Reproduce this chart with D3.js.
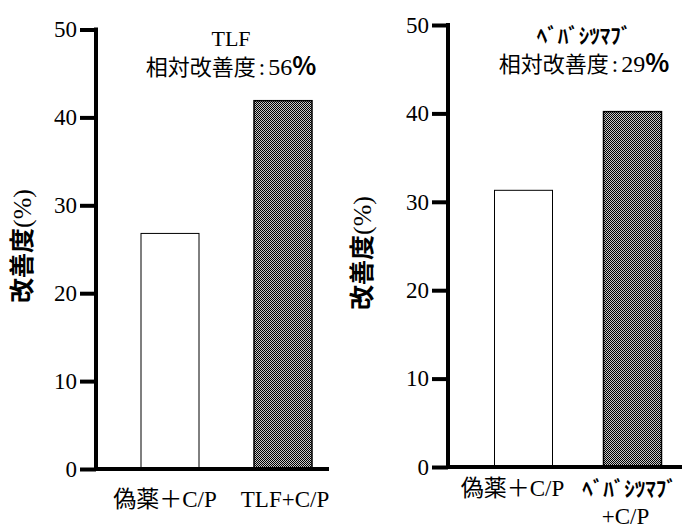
<!DOCTYPE html>
<html>
<head>
  <meta charset="utf-8">
  <script src="https://d3js.org/d3.v7.min.js"></script>
  <style type="text/css">
    body { margin: 0; background: #fff; }
  </style>
</head>
<body>
  <script type="text/javascript">
    // Data
    var leftCategories = ["偽薬＋C/P", "TLF+C/P"],
      leftValues = [26.8, 41.9],
      rightCategories = ["偽薬＋C/P", "ﾍﾞﾊﾞｼﾂﾏﾌﾞ\n+C/P"],
      rightValues = [31.3, 40.2],
      yTicks = [0, 10, 20, 30, 40, 50],
      leftTitle = ["TLF", "相対改善度", ":", "56", "%"],
      rightTitle = ["ﾍﾞﾊﾞｼﾂﾏﾌﾞ", "相対改善度", ":", "29", "%"],
      yLabel = "改善度",
      yLabelUnit = "(%)";

    var width = 682, height = 530;
    var SERIF = '"Liberation Serif", "Times New Roman", serif',
      JP = '"Noto Sans CJK JP", sans-serif';

    var svg = d3.select("body")
      .append("svg")
      .attr("width", width)
      .attr("height", height);

    // checker pattern for the treated bars
    var pat = svg.append("defs").append("pattern")
      .attr("id", "checker")
      .attr("width", 2).attr("height", 2)
      .attr("patternUnits", "userSpaceOnUse");
    pat.append("rect").attr("width", 2).attr("height", 2).attr("fill", "#c8c8c8");
    pat.append("rect").attr("width", 1).attr("height", 1).attr("fill", "#000");
    pat.append("rect").attr("x", 1).attr("y", 1).attr("width", 1).attr("height", 1).attr("fill", "#000");

    function font(sel, fam, size, weight) {
      return sel.style("font-family", fam).style("font-size", size + "px")
        .style("font-weight", weight || "normal");
    }

    function drawPanel(opt) {
      var g = svg.append("g");

      var y = d3.scaleLinear().domain([0, 50]).range([opt.yBottom, opt.yTop]);
      var x = d3.scalePoint().domain(opt.categories).range(opt.xRange).padding(0.5);
      var barW = 58;

      // bars
      g.selectAll("rect.bar")
        .data(opt.values)
        .enter().append("rect")
        .attr("class", "bar")
        .attr("x", function(d, i) { return x(opt.categories[i]) - barW / 2; })
        .attr("y", function(d) { return y(d); })
        .attr("width", barW)
        .attr("height", function(d) { return y(0) - y(d); })
        .attr("fill", function(d, i) { return i === 0 ? "#fff" : "url(#checker)"; })
        .attr("stroke", "#000")
        .attr("stroke-width", function(d, i) { return i === 0 ? 1 : 1.5; });

      // y axis
      var yAxis = d3.axisLeft(y).tickValues(yTicks).tickSize(16).tickPadding(3);
      var ya = g.append("g")
        .attr("transform", "translate(" + opt.axisX + ",0)")
        .call(yAxis);
      ya.select(".domain").remove();
      ya.selectAll(".tick line").attr("stroke", "#000").attr("stroke-width", 4);
      font(ya.selectAll(".tick text"), SERIF, 23).attr("fill", "#000");
      g.append("line")
        .attr("x1", opt.axisX).attr("x2", opt.axisX)
        .attr("y1", y(50) - 2).attr("y2", y(0) + 2)
        .attr("stroke", "#000").attr("stroke-width", 4);

      // x axis baseline
      g.append("line")
        .attr("x1", opt.axisX).attr("x2", opt.xEnd)
        .attr("y1", y(0)).attr("y2", y(0))
        .attr("stroke", "#000").attr("stroke-width", 4);

      // category labels
      opt.categories.forEach(function(c, i) {
        var lines = c.split("\n");
        lines.forEach(function(line, j) {
          var t = g.append("text")
            .attr("x", x(c) + (j === 0 ? opt.labelShift[i] : opt.labelShift2))
            .attr("y", opt.labelY + j * 28)
            .attr("text-anchor", "middle")
            .attr("fill", "#000");
          // split CJK parts from latin parts
          var parts = line.match(/[^\x00-\x7F]+|[\x00-\x7F]+/g);
          parts.forEach(function(p) {
            var latin = /[\x00-\x7F]/.test(p);
            var halfKana = /[\uFF61-\uFF9F]/.test(p);
            font(t.append("tspan"), latin ? SERIF : JP, latin ? 23 : (halfKana ? 21 : 23),
              halfKana ? "bold" : "normal").text(p);
          });
        });
      });

      // title
      var tx = opt.titleX;
      var isLatin = /^[\x00-\x7F]+$/.test(opt.title[0]);
      font(g.append("text"), isLatin ? SERIF : JP, isLatin ? 22 : 21, isLatin ? "normal" : "bold")
        .attr("x", tx).attr("y", opt.titleY)
        .attr("text-anchor", "middle")
        .text(opt.title[0]);
      var t2 = g.append("text")
        .attr("x", tx).attr("y", opt.titleY + 29)
        .attr("text-anchor", "middle");
      font(t2.append("tspan"), JP, 22).text(opt.title[1]);
      font(t2.append("tspan"), SERIF, 23).attr("dx", 3).text(opt.title[2]);
      font(t2.append("tspan"), SERIF, 24).attr("dx", 3).text(opt.title[3]);
      font(t2.append("tspan"), JP, 25, "bold").text(opt.title[4]);

      // y label
      var yl = g.append("text")
        .attr("transform", "translate(" + opt.yLabelX + "," + opt.yLabelY + ") rotate(-90)")
        .attr("text-anchor", "middle");
      font(yl.append("tspan"), JP, 25, "bold").text(yLabel);
      font(yl.append("tspan"), SERIF, 26).text(yLabelUnit);
    }

    drawPanel({
      categories: leftCategories, values: leftValues,
      title: leftTitle,
      axisX: 96, yTop: 29.5, yBottom: 469,
      xRange: [113.5, 339.5], xEnd: 329,
      labelY: 507, labelShift: [-5, 2], labelShift2: 0,
      titleX: 231, titleY: 46,
      yLabelX: 31, yLabelY: 246
    });

    drawPanel({
      categories: rightCategories, values: rightValues,
      title: rightTitle,
      axisX: 448, yTop: 25, yBottom: 467,
      xRange: [469, 687], xEnd: 682,
      labelY: 496, labelShift: [-11, -3], labelShift2: -7,
      titleX: 584, titleY: 43,
      yLabelX: 371, yLabelY: 253
    });
  </script>
</body>
</html>
